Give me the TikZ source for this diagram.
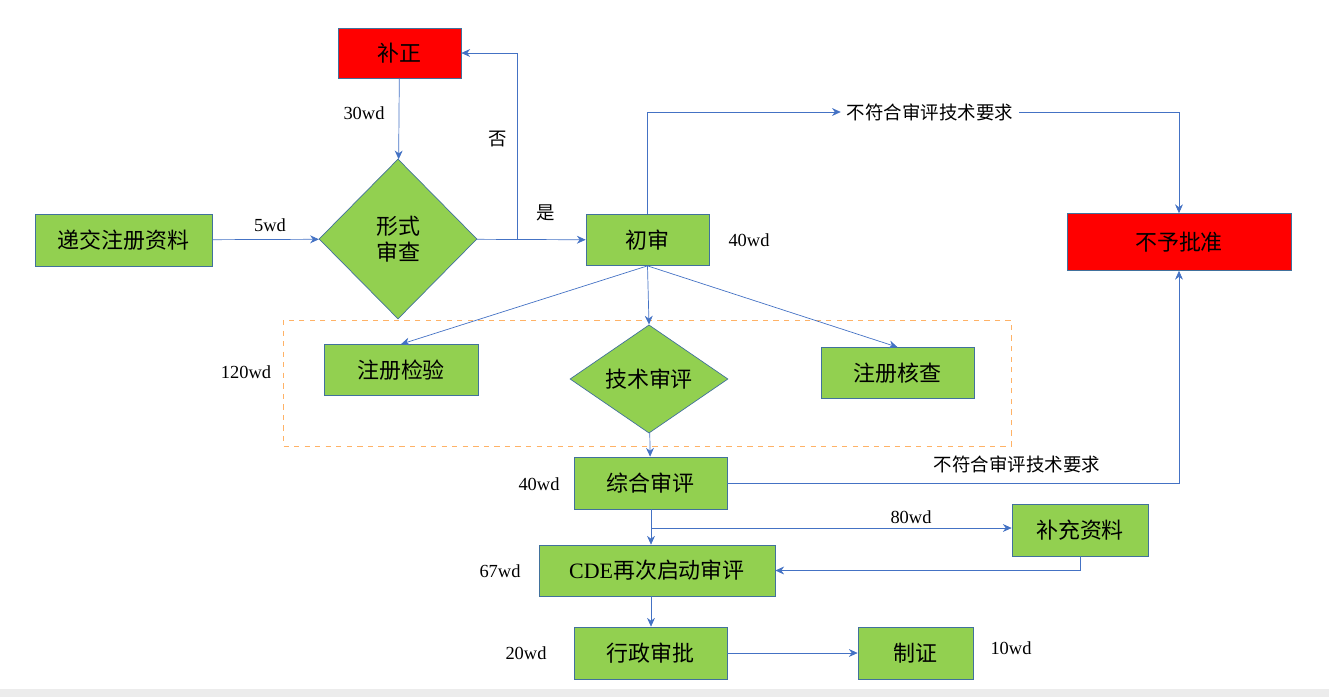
\documentclass[tikz,border=0pt]{standalone}
\usepackage{fontspec}
\setmainfont{Liberation Serif}
\newfontfamily\cjk{Noto Sans CJK SC}
\usetikzlibrary{shapes.geometric,arrows.meta}
\definecolor{lineblue}{HTML}{4472C4}
\definecolor{edgeblue}{HTML}{41719C}
\definecolor{boxgreen}{HTML}{92D050}
\tikzset{
  box/.style={draw=edgeblue, fill=boxgreen, rectangle, inner sep=0pt, font=\fontsize{12.5}{14}\selectfont\cjk},
  redbox/.style={box, fill=red},
  decide/.style={draw=edgeblue, fill=boxgreen, diamond, inner sep=0pt, align=center, font=\fontsize{12.5}{15}\selectfont\cjk},
  wd/.style={font=\fontsize{10.5}{12}\selectfont},
  note/.style={font=\fontsize{10.5}{12}\selectfont\cjk},
  flow/.style={draw=lineblue, -{Stealth[length=5pt,width=4.5pt]}},
  link/.style={draw=lineblue}
}
\begin{document}
\begin{tikzpicture}[x=0.02cm,y=-0.02cm]
\useasboundingbox (0,0) rectangle (1329,697);
\fill[gray!15] (0,689) rectangle (1329,697);
\draw[orange!60, dashed] (283,320) rectangle (1011,446);

\node (fix) [redbox, minimum width=2.46cm, minimum height=1cm] at (399.5,53) {补正};
\node (submit) [box, minimum width=3.54cm, minimum height=1.04cm] at (123.5,240) {递交注册资料};
\node (form) [decide, minimum width=3.16cm, minimum height=3.2cm] at (398,239) {形式\\审查};
\node (first) [box, minimum width=2.46cm, minimum height=1.02cm] at (647.5,240) {初审};
\node (reject) [redbox, minimum width=4.48cm, minimum height=1.14cm] at (1179,242) {不予批准};
\node (test) [box, minimum width=3.08cm, minimum height=1.02cm] at (401,370) {注册检验};
\node (tech) [decide, minimum width=3.16cm, minimum height=1.92cm] at (649,379) {技术审评};
\node (check) [box, minimum width=3.06cm, minimum height=1.02cm] at (897.5,373) {注册核查};
\node (overall) [box, minimum width=3.06cm, minimum height=1.04cm] at (650.5,483) {综合审评};
\node (supply) [box, minimum width=2.72cm, minimum height=1.04cm] at (1080,530) {补充资料};
\node (cde) [box, minimum width=4.72cm, minimum height=1.02cm] at (657,570.5) {{\rmfamily CDE}再次启动审评};
\node (admin) [box, minimum width=3.06cm, minimum height=1.04cm] at (650.5,653) {行政审批};
\node (cert) [box, minimum width=2.3cm, minimum height=1.04cm] at (915.5,653) {制证};

\node (nogo1) [note] at (930,112) {不符合审评技术要求};
\node (nogo2) [note] at (1017,464) {不符合审评技术要求};
\node [note] at (498,139) {否};
\node [note] at (546,213) {是};
\node [wd] at (364,113) {30wd};
\node [wd] at (270,225) {5wd};
\node [wd] at (749,240) {40wd};
\node [wd] at (246,372) {120wd};
\node [wd] at (539,484) {40wd};
\node [wd] at (911,517) {80wd};
\node [wd] at (500,571) {67wd};
\node [wd] at (526,653) {20wd};
\node [wd] at (1011,648) {10wd};

\coordinate (split) at (517,239);
\coordinate (fork) at (651,528);

\draw[flow] (fix) -- (form);
\draw[flow] (submit) -- (form);
\draw[flow] (form) -- (first);
\draw[flow] (split) |- (fix);
\draw[flow] (first.north) |- (nogo1);
\draw[flow] (nogo1.east) -| (reject.north);
\draw[flow] (first.south) -- (test.north);
\draw[flow] (first.south) -- (tech.north);
\draw[flow] (first.south) -- (check.north);
\draw[flow] (tech) -- (overall);
\draw[flow] (overall.east) -| (reject.south);
\draw[flow] (overall.south -| fork) -- (cde.north -| fork);
\draw[flow] (fork) -- (fork -| supply.west);
\draw[flow] (supply.south) |- (cde.east);
\draw[flow] (cde.south -| fork) -- (admin.north -| fork);
\draw[flow] (admin) -- (cert);
\end{tikzpicture}
\end{document}
